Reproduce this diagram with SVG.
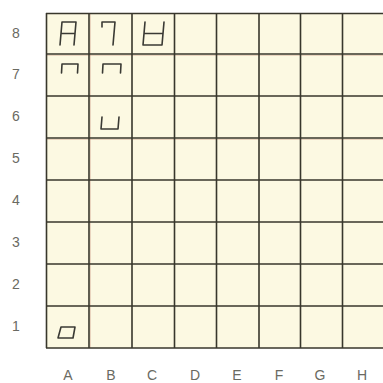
<svg xmlns="http://www.w3.org/2000/svg" width="383" height="383" viewBox="0 0 383 383">
<style>
.bg{fill:#ffffff}
.board{fill:#fcf9e2}
.grid{stroke:#38372c;stroke-width:1.6;fill:none}
.gridr{stroke:#b0604a;stroke-width:0.8;fill:none;opacity:0.3}
.seg{stroke:#3a3a34;stroke-width:1.6;fill:none;stroke-linecap:round;stroke-linejoin:round}
.lbl{font-family:"Liberation Sans","DejaVu Sans",sans-serif;font-size:14px;fill:#6a6a62;text-anchor:middle}
</style>
<rect class="bg" x="0" y="0" width="383" height="383"/>
<rect class="board" x="46" y="13" width="337" height="335"/>
<g id="grid">
<path class="gridr" d="M46 55.5 H383 M46 139.5 H383 M90.5 13 V348"/>
<path class="grid" d="M46.5 13 V348 M89 13 V348 M132 13 V348 M174.5 13 V348 M216.5 13 V348 M259 13 V348 M300.5 13 V348 M342.5 13 V348"/>
<path class="grid" d="M46 13.5 H383 M46 54 H383 M46 96 H383 M46 138 H383 M46 180 H383 M46 222 H383 M46 264 H383 M46 306 H383 M46 348 H383"/>
</g>
<g id="glyph-A8"><path class="seg" d="M62 22 H76 M62 22 L60 45 M76 22 L74 45 M61 33.5 H75"/></g>
<g id="glyph-B8"><path class="seg" d="M102 22 V27 M102 22 H115 L113 45"/></g>
<g id="glyph-C8"><path class="seg" d="M145 22 L143 45 M164 22 L162 45 M144 33.5 H163 M143 45 H162"/></g>
<g id="glyph-A7"><path class="seg" d="M61.5 73 L62 64 H78 L77.5 73"/></g>
<g id="glyph-B7"><path class="seg" d="M102.5 73 L103 64 H121 L120.5 73"/></g>
<g id="glyph-B6"><path class="seg" d="M102 117 L101 129 H118 L119 117"/></g>
<g id="glyph-A1"><path class="seg" d="M61 327 H75 L73 338 H58 Z"/></g>
<g id="rank-labels">
<text class="lbl" x="16" y="38">8</text>
<text class="lbl" x="16" y="79">7</text>
<text class="lbl" x="16" y="121">6</text>
<text class="lbl" x="16" y="163">5</text>
<text class="lbl" x="16" y="205">4</text>
<text class="lbl" x="16" y="247">3</text>
<text class="lbl" x="16" y="289">2</text>
<text class="lbl" x="16" y="331">1</text>
</g>
<g id="file-labels">
<text class="lbl" x="68" y="380">A</text>
<text class="lbl" x="111" y="380">B</text>
<text class="lbl" x="152" y="380">C</text>
<text class="lbl" x="195" y="380">D</text>
<text class="lbl" x="237" y="380">E</text>
<text class="lbl" x="279" y="380">F</text>
<text class="lbl" x="320" y="380">G</text>
<text class="lbl" x="362" y="380">H</text>
</g>
</svg>
